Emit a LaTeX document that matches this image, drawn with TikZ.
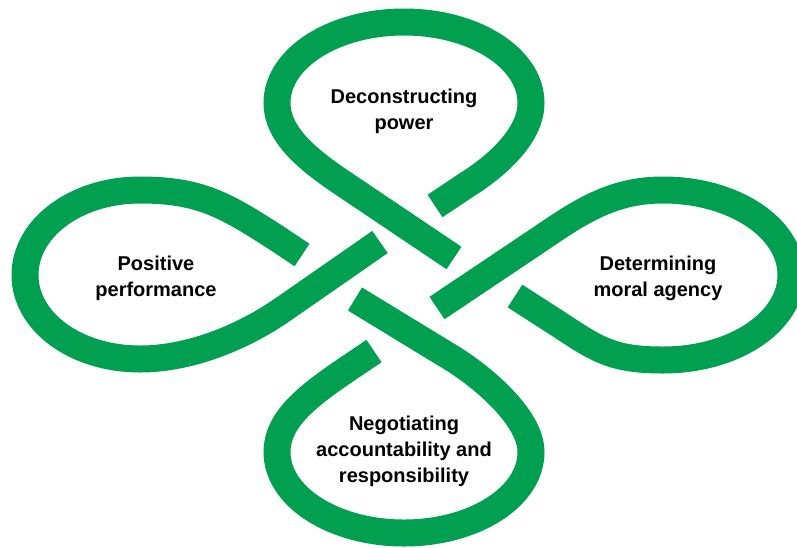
\documentclass[tikz,border=0pt]{standalone}
\usepackage{fontspec}
\setmainfont{Liberation Sans}
\definecolor{leafgreen}{RGB}{0,160,80}

\begin{document}
\begin{tikzpicture}[x=1pt,y=-1pt,
	band/.style={draw=leafgreen,line width=27pt},
	txt/.style={align=center,anchor=base,inner sep=0pt,font=\fontsize{20}{26}\selectfont\bfseries}]
	\path[use as bounding box] (0,0) rectangle (797,547);
	\clip (0,0) rectangle (797,547);
	% top loop
	\draw[band] (435,206) -- (468,184) .. controls (498,165) and (531,135) .. (531,103)
		.. controls (531,58) and (474,22) .. (404,22)
		.. controls (334,22) and (277,58) .. (277,103)
		.. controls (277,135) and (309,160) .. (338,180) -- (454,258);
	% right loop
	\draw[band] (437,308) -- (540,239) .. controls (581,211) and (613,190) .. (663,190)
		.. controls (734,190) and (791,228) .. (791,275)
		.. controls (791,322) and (734,360) .. (663,360)
		.. controls (613,360) and (598,350) .. (560,325) -- (515,296);
	% bottom loop
	\draw[band] (355,299) -- (455,360) .. controls (489,382) and (531,420) .. (531,452)
		.. controls (531,497) and (474,533) .. (404,533)
		.. controls (334,533) and (277,497) .. (277,452)
		.. controls (277,420) and (307,397) .. (340,374) -- (374,351);
	% left loop
	\draw[band] (302,255) -- (275,237) .. controls (225,205) and (200,190) .. (140,190)
		.. controls (76,190) and (25,228) .. (25,275)
		.. controls (25,322) and (76,359) .. (140,359)
		.. controls (190,359) and (244,337) .. (285,308) -- (380,242);

	\node[txt] (power) at (404,129) {Deconstructing\\power};
	\node[txt] (agency) at (658,296) {Determining\\moral agency};
	\node[txt] (account) at (404,482) {Negotiating\\accountability and\\responsibility};
	\node[txt] (perform) at (156,296) {Positive\\performance};
\end{tikzpicture}
\end{document}
